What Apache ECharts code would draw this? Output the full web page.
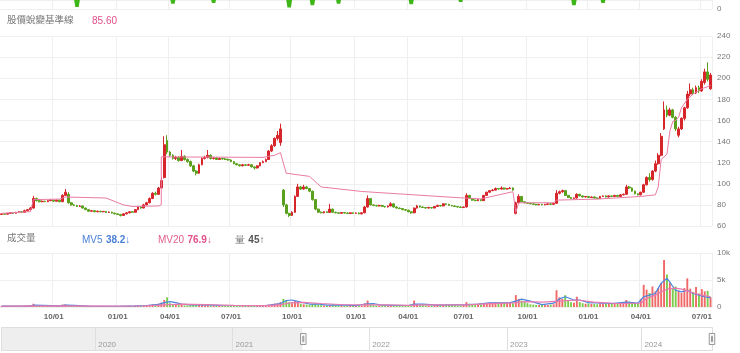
<!DOCTYPE html>
<html>
<head>
<meta charset="utf-8">
<script src="https://cdn.jsdelivr.net/npm/echarts@6/dist/echarts.min.js"></script>
<style>
html, body { margin: 0; padding: 0; background: #fff; }
#main { width: 740px; height: 353px; }
</style>
</head>
<body>
<div id="main"></div>
<script>
// 休市日(週末以外)
var holidays = [
    '2019-06-07', '2019-09-13', '2019-10-10', '2019-10-11',
    '2020-01-01', '2020-01-21', '2020-01-22', '2020-01-23', '2020-01-24', '2020-01-27', '2020-01-28', '2020-01-29',
    '2020-02-28', '2020-04-02', '2020-04-03', '2020-05-01', '2020-06-25', '2020-06-26', '2020-10-01', '2020-10-02', '2020-10-09',
    '2021-01-01', '2021-02-08', '2021-02-09', '2021-02-10', '2021-02-11', '2021-02-12', '2021-02-15', '2021-02-16',
    '2021-03-01', '2021-04-02', '2021-04-05', '2021-04-30', '2021-06-14', '2021-09-20', '2021-09-21', '2021-10-11', '2021-12-31',
    '2022-01-27', '2022-01-28', '2022-01-31', '2022-02-01', '2022-02-02', '2022-02-03', '2022-02-04', '2022-02-28',
    '2022-04-04', '2022-04-05', '2022-05-02', '2022-06-03', '2022-09-09', '2022-10-10',
    '2023-01-02', '2023-01-18', '2023-01-19', '2023-01-20', '2023-01-23', '2023-01-24', '2023-01-25', '2023-01-26', '2023-01-27',
    '2023-02-27', '2023-02-28', '2023-04-03', '2023-04-04', '2023-04-05', '2023-05-01', '2023-06-22', '2023-06-23',
    '2023-09-29', '2023-10-09', '2023-10-10',
    '2024-01-01', '2024-02-06', '2024-02-07', '2024-02-08', '2024-02-09', '2024-02-12', '2024-02-13', '2024-02-14',
    '2024-02-28', '2024-04-04', '2024-04-05', '2024-05-01', '2024-06-10'
];
var firstDay = '2019-05-02', viewStart = '2021-07-13', lastDay = '2024-07-12';

// K線 [開, 收, 低, 高] 每根約三個交易日
var ohlc = [
    [71,71.5,70.5,72],[71.5,71.2,70.8,72.2],[71.2,72,70.9,72.4],[72,72.5,71.6,73],[72.5,72,71.5,73],
    [72,73,71.8,73.4],[73,73.5,72.6,74],[73.5,73,72.5,74],[73,74.5,72.8,75.5],[74.5,75.5,74,76.2],
    [75.5,77,75,78],[77,86,76.5,88.5],[86,84,83.2,87],[84,83,82.4,84.6],[83,83.5,82.5,84.2],
    [83.5,83,82.6,84],[83,84,82.7,84.6],[84,84.5,83.6,85.5],[84.5,83.5,83,85],[83.5,84.5,83.2,85],
    [84.5,83,82.5,85],[83,89,82.8,90],[89,92,88.5,95],[90,82,81,92],[82,80,79.2,82.8],
    [80,79.5,78.8,80.6],[79.5,78.5,78,80],[78.5,79,78,79.8],[79,77,76.5,79.4],[77,75.5,75,77.5],
    [75.5,74,73.5,75.8],[74,74.5,73.6,75.2],[74.5,73.5,73,75],[73.5,74,73,74.6],[74,73.5,73,74.4],
    [73.5,73.8,73,74.3],[73.8,72.8,72.4,74.2],[72.8,73.2,72.3,73.8],[73.2,72.2,71.8,73.5],[72.2,71.5,71,72.6],
    [71.5,71,70.5,72],[71,70,69,71.4],[70,71.5,69.6,72],[71.5,72.5,71,73],[72.5,73.5,72,74.2],
    [73.5,73,72.5,74],[73,75.5,72.8,76],[75.5,78,75,79],[78,77,76.4,78.6],[77,80,76.8,81],
    [80,82,79.5,83],[82,86,81.5,87],[86,91,85.5,92],[91,90,89,92.5],[90,96,89.5,97],
    [96,103,95.5,106],[106,137,105,145],[141,130,128,146],[130,127,125.5,131],[127,124,123,128],
    [124,125,122.5,126.5],[125,122,121,126],[122,126,121.5,132],[126,123,122,127],[123,121,120,124],
    [121,117,116,122],[117,112,111,118],[112,110,108,113],[110,118,109.5,119],[118,124,117.5,125],
    [124,125,123,126.5],[125,127,124,132],[127,124,123,128],[124,124.5,123,125.5],[124.5,123,122.5,125.5],
    [123,124,122.5,125],[124,123.5,122.8,124.8],[123.5,123,122.5,124.5],[123,122.5,121.8,124],[122.5,121,120.5,123],
    [121,119,118.5,121.5],[119,118,117.5,119.8],[118,117,116.5,118.6],[117,118,116.5,118.8],[118,117.5,116.8,118.6],
    [117.5,118,117,119],[118,116,115.5,118.5],[116,115,113.5,116.5],[115,117,114.5,117.5],[117,120,116.5,120.5],
    [120,121,119.5,122],[121,123,120.5,124],[123,131,122.5,132],[131,136,130,137.5],[136,143,135,144],
    [143,146,141,150],[139,152,136,157],[94,80,78,95],[80,72,71,81],[72,70,68.5,72.5],
    [70,73,69.5,74],[73,88,72.5,89],[88,97,87.5,100],[97,95,94,98],[95,97,94.5,99],
    [97,95.5,94.8,98],[95.5,93,92,96],[93,85,84,93.5],[85,76,75,85.5],[76,73,72.5,76.5],
    [73,72.5,72,73.8],[72.5,73.5,72,74],[73.5,72.8,72.3,74],[72.8,76,72.5,81],[76,73,72.6,76.5],
    [73,72.5,72,73.5],[72.5,72,71.5,73],[72,72.8,71.6,73.2],[72.8,72.3,71.8,73.2],[72.3,71.8,71.3,72.8],
    [71.8,72.5,71.4,73],[72.5,72,71.5,73],[72,72.3,71.5,72.8],[72.3,71.5,71,72.8],[71.5,72.5,71,73],
    [72.5,78,72,79],[78,86,77.5,89],[86,80,79.5,86.5],[80,79.5,78.8,80.5],[79.5,79,78.5,80],
    [79,79.5,78.5,80.2],[79.5,78.5,78,80],[78.5,78,77.5,79],[78,79,77.6,79.5],[79,81,78.6,82.5],
    [81,78,77.5,81.5],[78,77,76.5,78.5],[77,76.5,76,77.5],[76.5,75.5,75,77],[75.5,75,74.5,76],
    [75,73.5,73,75.5],[73.5,72.5,71.5,74],[72.5,77,72,77.5],[77,79,76.5,80],[79,78,77.5,79.5],
    [78,77.5,77,78.5],[77.5,77,76.5,78],[77,77.5,76.6,78.2],[77.5,77,76.5,78],[77,78.5,76.8,79],
    [78.5,79.5,78,80.2],[79.5,79,78.5,80],[79,81,78.6,81.5],[81,80.5,80,81.5],[80.5,79.5,79,81],
    [79.5,79,78.5,80],[79,78.5,78,79.5],[78.5,78,77.5,79],[78,77.5,77,78.5],[77.5,78,77,78.5],
    [78,89,77.5,91],[89,86,85.5,89.5],[86,84.5,84,86.5],[84.5,84,83.5,85],[84,85,83.6,85.5],
    [85,84,83.5,85.5],[84,89,83.8,89.5],[89,92,88.5,92.5],[92,93.5,91.5,94],[93.5,94,93,95],
    [94,95.5,93.5,96.5],[95.5,95,94.5,96],[95,96,94.5,97.5],[96,95,94.5,96.5],[95,95.5,94.5,96],
    [95.5,96,95,97],[96,94,93.5,96.5],[72,82,71,83],[82,88,81.5,90],[88,83,82.5,88.5],
    [83,82,81.5,83.5],[82,81.5,81,82.5],[81.5,81,80.5,82],[81,80.5,80,81.5],[80.5,80,79.5,81],
    [80,80.5,79.6,81],[80.5,80,79.5,81],[80,80.5,79.6,81],[80.5,81,80,81.5],[81,80.5,80,81.5],
    [80.5,81.5,80,82],[81.5,91,81,94],[91,92.5,90,93.5],[92.5,93.5,91.5,94.5],[93.5,89,88.5,94],
    [89,87,86.5,89.5],[87,86,85.5,87.5],[86,86.5,85.5,87],[86.5,90,86,91],[90,88.5,88,90.5],
    [88.5,87.5,87,89],[87.5,88,87,88.5],[88,87,86.5,88.5],[87,87.5,86.5,88],[87.5,86.5,86,88],
    [86.5,86,85.5,87],[86,88,85.8,88.5],[88,88.5,87.5,89],[88.5,87.5,87,89],[87.5,88.5,87,89],
    [88.5,88,87.5,89],[88,89,87.6,89.5],[89,88,87.5,89.5],[88,89.5,87.8,90],[89.5,90,89,90.8],
    [90,97,89.5,99],[97,96,95,98],[96,93,92.5,96.5],[93,90.5,90,93.5],[90.5,89.5,89,91],
    [89.5,92,89,92.5],[92,99,91.5,100],[99,106,98.5,107],[106,104,102,110],[104,112,103,113],
    [112,119,111,122],[119,127,118,129],[127,145,126,148],[152,170,151,178],[170,165,163,174],
    [165,170,164,172],[170,163,162,171],[163,152,150,164],[146,152,144,154],[152,162,151,163],
    [162,172,160,173],[172,185,171,188],[185,189,183,195],[189,186,184,191],[186,191,185,193],
    [191,188,186,193],[188,197,187,199],[196,206,194,209],[206,199,197,215],[190,203,189,205]
];

// 成交量(張)
var volume = [
    150,120,180,140,160,200,150,170,250,300,350,600,300,200,180,150,200,180,160,220,
    170,450,500,400,250,200,180,160,150,200,170,150,140,160,130,150,140,120,130,150,
    140,160,150,180,200,170,250,300,250,280,320,400,500,420,600,800,1300,1800,700,500,
    400,350,450,300,280,350,420,450,500,400,350,450,300,250,230,220,240,200,210,190,
    230,250,220,200,210,190,200,220,260,240,230,260,450,550,650,700,900,1500,1300,900,
    700,1100,1000,600,500,450,400,600,700,400,350,300,280,300,500,350,280,260,240,250,
    230,220,240,230,260,700,1200,500,350,300,280,300,260,250,280,350,300,260,250,240,
    230,280,1200,500,400,350,320,300,300,330,380,400,350,420,380,350,330,320,300,340,
    900,600,450,400,380,350,700,750,800,700,900,850,800,900,750,800,700,2200,1500,1200,
    900,700,500,450,400,380,420,400,380,450,500,3100,1800,1500,2200,1200,900,800,1900,900,
    700,600,650,600,550,500,700,650,600,700,650,600,700,650,700,1300,1000,800,700,600,
    1500,4100,3200,2600,3800,2900,3500,4400,8700,6000,4500,3500,3800,3000,2600,3500,5300,3400,2800,3700,
    2500,3300,2900,3000,1800
];

// [序號, 值]
var baseLine = [
    [0,72],[10,73.6],[11,85],[20,85.5],[22,87.5],[36,86.5],[42,80],[45,78.5],[54,79],[55,80],[55,125.5],
    [90,125],[94,127],[96,129.5],[98,110],[106,107],[110,97],[124,92.7],[142,89.5],[158,86.7],[165,85.7],
    [176,92.5],[177,73],[178,82],[190,82],[191,84.5],[205,85.5],[220,88],[225,89.5],[226,97],[227,123],
    [229,128],[230,150],[231,159],[232,160],[233,163],[234,172],[236,180],[238,185],[241,190],[244,193]
];
var mv5 = [
    [0,160],[10,200],[11,330],[14,300],[20,200],[22,350],[25,300],[30,180],[40,140],[46,200],[50,280],
    [54,480],[56,800],[58,1000],[60,800],[62,520],[65,380],[68,430],[71,400],[75,280],[90,230],[93,400],
    [96,650],[98,1200],[100,1300],[103,900],[106,550],[109,560],[112,360],[116,380],[122,250],[126,600],
    [128,650],[131,330],[140,280],[142,550],[145,520],[150,350],[160,450],[164,550],[168,760],[175,800],
    [177,1100],[179,1450],[182,1100],[186,450],[190,700],[192,1500],[194,1900],[197,1300],[199,1300],
    [202,800],[210,650],[215,900],[219,700],[221,1900],[223,2200],[225,2500],[226,3500],[227,4400],
    [229,5300],[230,4600],[231,3800],[232,3100],[234,2800],[236,3100],[238,2500],[240,2200],[242,1900],[244,1700]
];
var mv20 = [
    [0,180],[20,200],[40,170],[50,230],[56,400],[62,520],[70,460],[80,300],[92,260],[96,450],[100,800],
    [104,850],[110,650],[118,420],[126,380],[132,420],[140,300],[146,380],[160,380],[168,620],[176,750],
    [180,1000],[186,900],[192,1100],[198,1300],[204,900],[212,650],[220,700],[222,1600],[225,2200],
    [227,2800],[229,3300],[232,3500],[234,3300],[236,3000],[238,2600],[241,2200],[244,1900]
];
// 上方指標面板只露出底部
var topLine = [
    [25,20],[26,2.3],[27,20],[58,20],[59,5.7],[60,20],[72,20],[73,6.3],[74,20],[98,20],[99,1.7],[100,20],
    [106,20],[107,4],[108,20],[115,20],[116,5.7],[117,20],[140,20],[141,5],[142,20],[157,20],[158,7.3],[159,20],
    [196,20],[197,4],[198,20],[206,20],[207,6.3],[208,20]
];

var font = "'Liberation Sans', 'Noto Sans CJK TC', sans-serif";

function tradingDays(from, to) {
    var out = [], d = new Date(from + 'T00:00:00Z'), end = new Date(to + 'T00:00:00Z');
    while (d <= end) {
        var s = d.toISOString().slice(0, 10), w = d.getUTCDay();
        if (w != 0 && w != 6 && holidays.indexOf(s) < 0) out.push(s);
        d.setUTCDate(d.getUTCDate() + 1);
    }
    return out;
}
var days = tradingDays(firstDay, lastDay);
var k = days.indexOf(viewStart);
var cats = [];
for (var i = k % 3; i < days.length; i += 3) {
    cats.push(days[Math.min(i + 2, days.length - 1)]);
}
var startSlot = (k - k % 3) / 3;

// 季初刻度
var quarter = {};
for (var i = 1; i < cats.length; i++) {
    var m = cats[i].slice(5, 7);
    if (m != cats[i - 1].slice(5, 7) && ['01', '04', '07', '10'].indexOf(m) >= 0) quarter[i] = true;
}
function isQuarter(i) { return !!quarter[i]; }
function isYear(i) { return i > 0 && days[i].slice(0, 4) != days[i - 1].slice(0, 4); }

function pad(arr) {
    var out = [];
    for (var i = 0; i < startSlot; i++) out.push('-');
    return out.concat(arr);
}
function shift(pairs) {
    return pairs.map(function (p) { return [p[0] + startSlot, p[1]]; });
}

var volData = volume.map(function (v, i) {
    var up = ohlc[i][1] >= ohlc[i][0];
    return { value: v, itemStyle: { color: up ? '#f06868' : '#7acb4c' } };
});

var gridLine = { show: true, lineStyle: { color: '#efefef', width: 1 } };
function mainX(idx, labels) {
    return {
        type: 'category', gridIndex: idx, data: cats, boundaryGap: true,
        axisLine: { show: false }, axisTick: { show: false },
        axisLabel: labels ? {
            show: true, interval: isQuarter, fontSize: 8, fontWeight: 'bold', color: '#666', margin: 6,
            formatter: function (v) { return v.slice(5, 7) + '/01'; }
        } : { show: false },
        splitLine: { show: true, interval: isQuarter, lineStyle: { color: '#efefef' } }
    };
}

var myChart = echarts.init(document.getElementById('main'));
var option = {
    animation: false,
    textStyle: { fontFamily: font },
    grid: [
        { left: 0, right: 28, top: 0, height: 9, outerBoundsMode: 'none' },
        { left: 0, right: 28, top: 36, height: 190, outerBoundsMode: 'none' },
        { left: 0, right: 28, top: 253, height: 54, outerBoundsMode: 'none' },
        { left: 0, right: 28, top: 327, height: 24, outerBoundsMode: 'none' }
    ],
    xAxis: [
        mainX(0, false),
        mainX(1, false),
        mainX(2, true),
        {
            type: 'category', gridIndex: 3, data: days, boundaryGap: false, z: 10,
            axisLine: { show: false }, axisTick: { show: false },
            axisLabel: {
                inside: true, interval: isYear, align: 'left', padding: [0, 0, 0, 3], margin: 2,
                fontSize: 8, color: '#999', formatter: function (v) { return v.slice(0, 4); }
            },
            splitLine: { show: true, interval: isYear, lineStyle: { color: '#dedede' } }
        }
    ],
    yAxis: [
        {
            type: 'value', gridIndex: 0, min: 0, max: 9, interval: 9, position: 'right',
            axisLabel: { fontSize: 8, color: '#777', margin: 5, formatter: function (v) { return v === 0 ? '0' : ''; } },
            splitLine: gridLine
        },
        {
            type: 'value', gridIndex: 1, min: 60, max: 240, interval: 20, position: 'right',
            axisLabel: { fontSize: 8, color: '#777', margin: 5 },
            splitLine: gridLine
        },
        {
            type: 'value', gridIndex: 2, min: 0, max: 10000, interval: 5000, position: 'right',
            axisLabel: { fontSize: 8, color: '#777', margin: 5, formatter: function (v) { return v === 0 ? '0' : v / 1000 + 'k'; } },
            splitLine: gridLine
        },
        { type: 'value', gridIndex: 3, show: false }
    ],
    dataZoom: [{
        type: 'slider', xAxisIndex: [0, 1, 2], startValue: startSlot, endValue: cats.length - 1,
        left: 0, right: 28, top: 327, height: 24,
        showDataShadow: false, showDetail: false, brushSelect: false, zoomLock: false,
        backgroundColor: '#eeeeee', fillerColor: '#ffffff', borderColor: '#dddddd', borderRadius: 0,
        handleIcon: 'path://M0,0H6V12H0Z M2.5,3H3.5V9H2.5Z', handleSize: '46%',
        handleStyle: { color: '#f7f7f7', borderColor: '#999999', borderWidth: 1 },
        moveHandleSize: 0, moveHandleStyle: { opacity: 0 }
    }],
    graphic: [
        { type: 'text', left: 7, top: 16, style: { text: '股價蛻變基準線', fill: '#777', fontSize: 9.5, fontFamily: font } },
        { type: 'text', left: 92, top: 16, style: { text: '85.60', fill: '#e0508a', fontSize: 10, fontFamily: font } },
        { type: 'text', left: 7, top: 234, style: { text: '成交量', fill: '#777', fontSize: 9.5, fontFamily: font } },
        {
            type: 'text', left: 82, top: 234, style: {
                text: '{a|MV5} {b|38.2↓}', fontFamily: font,
                rich: { a: { fill: '#4a80d8', color: '#4a80d8', fontSize: 10 }, b: { fill: '#4a80d8', color: '#4a80d8', fontSize: 10, fontWeight: 'bold' } }
            }
        },
        {
            type: 'text', left: 158, top: 234, style: {
                text: '{a|MV20} {b|76.9↓}', fontFamily: font,
                rich: { a: { fill: '#e0608e', color: '#e0608e', fontSize: 10 }, b: { fill: '#e0508a', color: '#e0508a', fontSize: 10, fontWeight: 'bold' } }
            }
        },
        {
            type: 'text', left: 235, top: 234, style: {
                text: '{a|量} {b|45↑}', fontFamily: font,
                rich: { a: { fill: '#777', color: '#777', fontSize: 9.5 }, b: { fill: '#555', color: '#555', fontSize: 10, fontWeight: 'bold' } }
            }
        }
    ],
    series: [
        {
            name: '指標', type: 'line', xAxisIndex: 0, yAxisIndex: 0, data: shift(topLine),
            symbol: 'circle', symbolSize: 5, clip: true,
            lineStyle: { color: '#3fb618', width: 3.5 }, itemStyle: { color: '#3fb618' }
        },
        {
            name: 'K線', type: 'candlestick', xAxisIndex: 1, yAxisIndex: 1, data: pad(ohlc), barWidth: '78%',
            itemStyle: { color: '#d7262b', color0: '#5aa01c', borderColor: '#d7262b', borderColor0: '#5aa01c', borderWidth: 1 }
        },
        {
            name: '股價蛻變基準線', type: 'line', xAxisIndex: 1, yAxisIndex: 1, data: shift(baseLine),
            showSymbol: false, lineStyle: { color: '#e97aa4', width: 1 }
        },
        {
            name: '成交量', type: 'bar', xAxisIndex: 2, yAxisIndex: 2, data: pad(volData), barWidth: '65%'
        },
        {
            name: 'MV5', type: 'line', xAxisIndex: 2, yAxisIndex: 2, data: shift(mv5),
            showSymbol: false, lineStyle: { color: '#4a86e0', width: 1.2 }, z: 3
        },
        {
            name: 'MV20', type: 'line', xAxisIndex: 2, yAxisIndex: 2, data: shift(mv20),
            showSymbol: false, lineStyle: { color: '#e87ab0', width: 1.2 }, z: 3
        }
    ]
};
myChart.setOption(option);
</script>
</body>
</html>
